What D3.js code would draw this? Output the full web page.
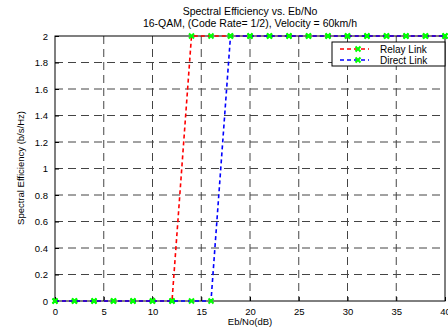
<!DOCTYPE html>
<html><head><meta charset="utf-8">
<script src="https://cdn.jsdelivr.net/npm/d3@7"></script>
<style>body{margin:0;background:#fff}svg{display:block;font-family:"Liberation Sans",Arial,sans-serif}</style>
</head><body><svg id="c" width="448" height="330"></svg>
<script>
const xValues = [0,2,4,6,8,10,12,14,16,18,20,22,24,26,28,30,32,34,36,38,40];
const relayLink = [0,0,0,0,0,0,0,2,2,2,2,2,2,2,2,2,2,2,2,2,2];
const directLink = [0,0,0,0,0,0,0,0,0,2,2,2,2,2,2,2,2,2,2,2,2];
const xTicks = [0,5,10,15,20,25,30,35,40];
const yTicks = [0,0.2,0.4,0.6,0.8,1,1.2,1.4,1.6,1.8,2];
const seriesNames = ["Relay Link","Direct Link"];
const seriesColors = ["#ff0000","#0000ff"];

const svg = d3.select("#c");
const L=55,R=445,T=36,B=301;
const x=d3.scaleLinear().domain([0,40]).range([L,R]);
const y=d3.scaleLinear().domain([0,2]).range([B,T]);

// grid
const g=svg.append("g");
xTicks.slice(1,-1).forEach(v=>g.append("line").attr("x1",x(v)).attr("x2",x(v)).attr("y1",T).attr("y2",B).attr("stroke","#444").attr("stroke-dasharray","8,5"));
yTicks.slice(1,-1).forEach(v=>g.append("line").attr("x1",L).attr("x2",R).attr("y1",y(v)).attr("y2",y(v)).attr("stroke","#444").attr("stroke-dasharray","8,5"));

// axes
const xa=svg.append("g").attr("transform",`translate(0,${B})`).call(d3.axisBottom(x).tickValues(xTicks).tickSize(-4).tickPadding(7).tickFormat(d3.format("d")));
const ya=svg.append("g").attr("transform",`translate(${L},0)`).call(d3.axisLeft(y).tickValues(yTicks).tickSize(-4).tickPadding(7).tickFormat(d=>d3.format("~g")(d)));
[xa,ya].forEach(a=>{a.select(".domain").remove();a.selectAll("text").attr("font-size",9.5).attr("font-family","Liberation Sans, Arial").attr("fill","#000");a.selectAll("line").attr("stroke","#000");});
svg.append("rect").attr("x",L).attr("y",T).attr("width",R-L).attr("height",B-T).attr("fill","none").attr("stroke","#000").attr("stroke-width",1);

// series
const data=[relayLink,directLink];
const line=d3.line().x((d,i)=>x(xValues[i])).y(d=>y(d));
function marker(sel,cx,cy){
  const s=2.5;
  sel.append("path").attr("d",`M${cx-s},${cy-s}L${cx+s},${cy+s}M${cx-s},${cy+s}L${cx+s},${cy-s}`).attr("stroke","#00ff00").attr("stroke-width",2);
}
data.forEach((ser,k)=>{
  svg.append("path").datum(ser).attr("d",line).attr("fill","none").attr("stroke",seriesColors[k]).attr("stroke-width",1.6).attr("stroke-dasharray","4,3");
});
data.forEach((ser,k)=>{
  ser.forEach((v,i)=>marker(svg,x(xValues[i]),y(v)));
});

// titles
svg.append("text").attr("x",250).attr("y",15).attr("text-anchor","middle").attr("font-size",10.5).text("Spectral Efficiency vs. Eb/No");
svg.append("text").attr("x",250).attr("y",27).attr("text-anchor","middle").attr("font-size",10.5).text("16-QAM, (Code Rate= 1/2), Velocity = 60km/h");
svg.append("text").attr("x",250).attr("y",325).attr("text-anchor","middle").attr("font-size",9.5).text("Eb/No(dB)");
svg.append("text").attr("transform","translate(24,168) rotate(-90)").attr("text-anchor","middle").attr("font-size",9.5).text("Spectral Efficiency (b/s/Hz)");

// legend
const lg=svg.append("g");
lg.append("rect").attr("x",332).attr("y",42).attr("width",113).attr("height",24).attr("fill","#fff").attr("stroke","#000");
seriesNames.forEach((n,k)=>{
  const yy=49+k*11;
  lg.append("line").attr("x1",340).attr("x2",369).attr("y1",yy).attr("y2",yy).attr("stroke",seriesColors[k]).attr("stroke-width",1.6).attr("stroke-dasharray","4,3");
  marker(lg,358,yy);
  lg.append("text").attr("x",380).attr("y",yy+3.5).attr("font-size",10).text(n);
});
</script></body></html>
